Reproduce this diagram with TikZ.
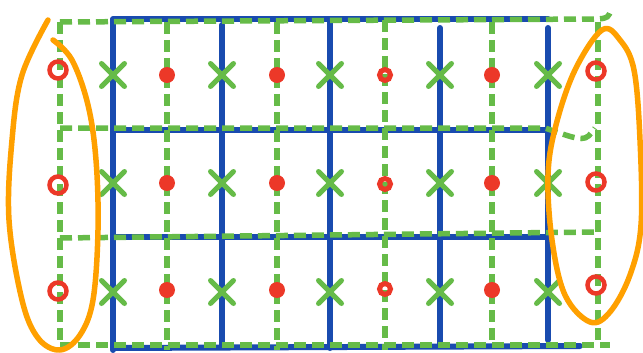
\documentclass[tikz,border=0pt]{standalone}
\usepackage{tikz}
\usetikzlibrary{shapes.misc}
\definecolor{gridblue}{RGB}{25, 75, 175}
\definecolor{dashgreen}{RGB}{102, 187, 72}
\definecolor{dotred}{RGB}{236, 56, 40}
\definecolor{loopamber}{RGB}{255, 160, 0}
\tikzset{
  bluewall/.style={gridblue, line width=6pt, line cap=round},
  greendash/.style={dashgreen, line width=5.5pt, dash pattern=on 12pt off 6pt},
  ringdot/.style={circle, draw=dotred, line width=4.5pt, minimum size=17pt, inner sep=0pt},
  smallring/.style={circle, draw=dotred, line width=5pt, minimum size=11pt, inner sep=0pt},
  solidspot/.style={circle, fill=dotred, minimum size=16pt, inner sep=0pt},
  xmark/.style={cross out, draw=dashgreen, line width=5pt, minimum size=18pt, inner sep=0pt, line cap=round},
  loopline/.style={loopamber, line width=5.5pt, line cap=round, line join=round}
}

\begin{document}
\begin{tikzpicture}[x=1pt, y=-1pt]
  \useasboundingbox (0,0) rectangle (643,353);
  % solid grid
  \draw[bluewall] (113,20) -- (113,350);
  \draw[bluewall] (222,25) -- (222,345);
  \draw[bluewall] (330,22) -- (330,348);
  \draw[bluewall] (440,28) -- (440,345);
  \draw[bluewall] (548,28) -- (548,340);
  \draw[bluewall] (113,19) -- (548,19);
  \draw[bluewall] (113,130) -- (545,130);
  \draw[bluewall] (113,237) -- (548,237);
  \draw[bluewall] (113,348) -- (580,346);
  % shifted dashed grid
  \foreach \gx/\top/\bot in {60/22/345, 167/22/350, 277/22/350, 385/20/350, 492/22/345, 598/22/345}
    \draw[greendash] (\gx,\top) -- (\gx,\bot);
  \draw[greendash] (60,22) -- (598,19) .. controls (608,18) .. (612,8);
  \draw[greendash] (60,128) -- (545,128) .. controls (585,142) .. (595,128);
  \draw[greendash] (60,238) -- (598,232);
  \draw[greendash] (60,345) -- (610,345);
  % crosses on the solid lines
  \foreach \gx in {113, 222, 330, 440, 548}
    \foreach \gy [count=\k] in {75, 183, 292}
      \node[xmark] (x-\gx-\k) at (\gx,\gy) {};
  % dots on the dashed lines
  \foreach \gx in {167, 277, 492}
    \foreach \gy [count=\k] in {75, 183, 290}
      \node[solidspot] (d-\gx-\k) at (\gx,\gy) {};
  \foreach \gy [count=\k] in {75, 184, 289}
    \node[smallring] (d-385-\k) at (385,\gy) {};
  \foreach \gy [count=\k] in {70, 185, 291}
    \node[ringdot] (l-\k) at (58,\gy) {};
  \foreach \gy [count=\k] in {71, 182, 285}
    \node[ringdot] (r-\k) at (596,\gy) {};
  % boundary loops
  \draw[loopline] plot[smooth, tension=0.6] coordinates {(53,40) (72,60) (88,105) (96,160) (98,230) (93,300) (80,335) (60,350) (38,338) (22,300) (9,220) (12,140) (22,75) (48,20)};
  \draw[loopline] plot[smooth cycle, tension=0.6] coordinates {(602,30) (575,70) (556,125) (548,175) (552,240) (565,295) (590,322) (610,312) (630,275) (641,225) (640,140) (634,70) (620,40)};
\end{tikzpicture}
\end{document}
